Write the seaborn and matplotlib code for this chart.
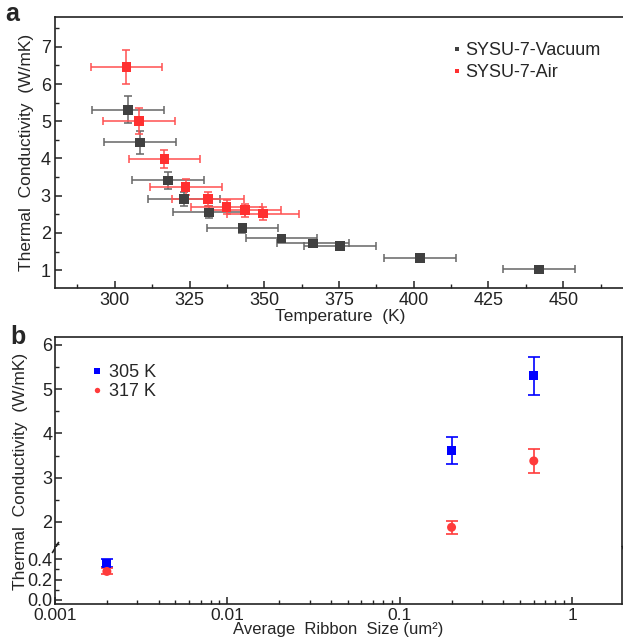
import numpy as np
import pandas as pd
import matplotlib
matplotlib.use("Agg")
import matplotlib.pyplot as plt
from matplotlib.ticker import MultipleLocator, LogLocator, NullFormatter, FixedLocator
import seaborn as sns

sns.set_theme(style="ticks")
plt.rcParams.update({
    "font.family": ["Liberation Sans", "DejaVu Sans"],
    "font.size": 12,
    "axes.linewidth": 1.2,
    "xtick.direction": "in",
    "ytick.direction": "in",
    "xtick.major.size": 5,
    "ytick.major.size": 5,
    "xtick.minor.size": 3,
    "ytick.minor.size": 3,
    "xtick.major.width": 1.1,
    "ytick.major.width": 1.1,
    "xtick.minor.width": 1.0,
    "ytick.minor.width": 1.0,
    "xtick.labelsize": 13,
    "ytick.labelsize": 13,
    "xtick.color": "#222222",
    "ytick.color": "#222222",
    "axes.edgecolor": "#222222",
})

# ---- panel a: thermal conductivity vs temperature
T_vac    = [304.5, 308.5, 317.8, 323.2, 331.6, 342.7, 355.8, 366.2, 375.3, 402.0, 441.8]
k_vac    = [5.31, 4.43, 3.41, 2.91, 2.55, 2.13, 1.85, 1.72, 1.65, 1.32, 1.02]
kerr_vac = [0.36, 0.31, 0.23, 0.18, 0.16, 0.12, 0.10, 0.08, 0.08, 0.06, 0.05]
Terr_vac = [12, 12, 12, 12, 12, 12, 12, 12, 12, 12, 12]

T_air    = [303.9, 308.1, 316.6, 323.7, 331.2, 337.4, 343.6, 349.6]
k_air    = [6.46, 5.01, 3.99, 3.24, 2.91, 2.70, 2.61, 2.52]
kerr_air = [0.45, 0.35, 0.25, 0.22, 0.18, 0.18, 0.17, 0.17]
Terr_air = [12, 12, 12, 12, 12, 12, 12, 12]

# ---- panel b: thermal conductivity vs ribbon size
size      = [0.002, 0.2, 0.6]
k_305     = [0.36, 3.62, 5.30]
kerr_305  = [0.04, 0.31, 0.42]
k_317     = [0.28, 1.88, 3.38]
kerr_317  = [0.03, 0.15, 0.27]

C_VAC, C_VAC_ERR = "#404040", "#666666"
C_AIR, C_AIR_ERR = "#ff3030", "#ff5050"
C_305, C_317 = "#0000ff", "#ff3b3b"

W, H = 623, 637
fig = plt.figure(figsize=(W / 100, H / 100), dpi=100)


def box(l, r, t, b):
    return [l / W, 1 - b / H, (r - l) / W, (b - t) / H]


# panel a
ax_a = fig.add_axes(box(55, 626, 17, 288))
df_a = pd.DataFrame({
    "T": T_vac + T_air,
    "k": k_vac + k_air,
    "series": ["SYSU-7-Vacuum"] * len(T_vac) + ["SYSU-7-Air"] * len(T_air),
})
ax_a.errorbar(T_vac, k_vac, xerr=Terr_vac, yerr=kerr_vac, fmt="none",
              ecolor=C_VAC_ERR, elinewidth=1.1, capsize=3, capthick=1.1, zorder=2)
ax_a.errorbar(T_air, k_air, xerr=Terr_air, yerr=kerr_air, fmt="none",
              ecolor=C_AIR_ERR, elinewidth=1.1, capsize=3, capthick=1.1, zorder=3)
sns.scatterplot(data=df_a, x="T", y="k", hue="series",
                palette={"SYSU-7-Vacuum": C_VAC, "SYSU-7-Air": C_AIR},
                marker="s", s=48, linewidth=0, ax=ax_a, zorder=4, legend=True)
ax_a.set_xlim(280, 471)
ax_a.set_ylim(0.52, 7.8)
ax_a.xaxis.set_major_locator(MultipleLocator(25))
ax_a.xaxis.set_minor_locator(MultipleLocator(12.5))
ax_a.yaxis.set_major_locator(MultipleLocator(1))
ax_a.yaxis.set_minor_locator(MultipleLocator(0.5))
ax_a.tick_params(axis="both", which="both", top=False, right=False, pad=3)
ax_a.set_xlabel("Temperature  (K)", labelpad=0, fontsize=12.5)
ax_a.set_ylabel("Thermal  Conductivity  (W/mK)", labelpad=5, fontsize=12.5)
h, l = ax_a.get_legend_handles_labels()
ax_a.legend(h, l, loc="upper left", bbox_to_anchor=(444 / W, 1 - 33 / H),
            bbox_transform=fig.transFigure, frameon=False, markerscale=0.5,
            handlelength=0.4, handletextpad=0.3, labelspacing=0.3,
            borderpad=0, fontsize=13)
fig.text(5 / W, 1 - 14 / H, "a", fontsize=18, fontweight="bold", va="center")

# panel b (broken y axis)
ax_hi = fig.add_axes(box(55, 622, 337, 547))
ax_lo = fig.add_axes(box(55, 622, 547, 604), sharex=ax_hi)
df_b = pd.DataFrame({
    "size": size + size,
    "k": k_305 + k_317,
    "temp": ["305 K"] * len(size) + ["317 K"] * len(size),
})
for ax in (ax_hi, ax_lo):
    ax.errorbar(size, k_305, yerr=kerr_305, fmt="none", ecolor=C_305,
                elinewidth=1.2, capsize=4, capthick=1.2, zorder=2)
    ax.errorbar(size, k_317, yerr=kerr_317, fmt="none", ecolor=C_317,
                elinewidth=1.2, capsize=4, capthick=1.2, zorder=2)
    sns.scatterplot(data=df_b, x="size", y="k", hue="temp", style="temp",
                    palette={"305 K": C_305, "317 K": C_317},
                    markers={"305 K": "s", "317 K": "o"},
                    s=42, linewidth=0, ax=ax, zorder=4, legend=(ax is ax_hi))
    ax.set_xscale("log")
    ax.set_xlim(0.001, 1.95)
    ax.set_xlabel("")
    ax.set_ylabel("")
    ax.tick_params(axis="both", which="both", top=False, right=False, pad=2)

ax_hi.set_ylim(1.435, 6.18)
ax_hi.yaxis.set_major_locator(MultipleLocator(1))
ax_hi.yaxis.set_minor_locator(MultipleLocator(0.5))
ax_hi.spines["bottom"].set_visible(False)
ax_hi.tick_params(axis="x", which="both", bottom=False, labelbottom=False)

ax_lo.set_ylim(-0.04, 0.52)
ax_lo.yaxis.set_major_locator(FixedLocator([0.0, 0.2, 0.4]))
ax_lo.yaxis.set_minor_locator(FixedLocator([0.1, 0.3]))
ax_lo.yaxis.set_major_formatter(matplotlib.ticker.FormatStrFormatter("%.1f"))
ax_lo.spines["top"].set_visible(False)
ax_lo.xaxis.set_major_locator(LogLocator(base=10, numticks=10))
ax_lo.xaxis.set_minor_locator(LogLocator(base=10, subs=np.arange(2, 10), numticks=20))
ax_lo.xaxis.set_minor_formatter(NullFormatter())
ax_lo.xaxis.set_major_formatter(matplotlib.ticker.FuncFormatter(lambda v, p: f"{v:g}"))
ax_lo.tick_params(axis="x", which="major", pad=3, labelsize=12.5)
ax_lo.set_xlabel("Average  Ribbon  Size (um²)", labelpad=-1, fontsize=12)

# break marks on the y spines
kw = dict(marker=[(-0.6, -1), (0.6, 1)], markersize=8, linestyle="none",
          color="#222222", mec="#222222", mew=1.2, clip_on=False)
ax_hi.plot([0, 1], [0, 0], transform=ax_hi.transAxes, **kw)

h, l = ax_hi.get_legend_handles_labels()
ax_hi.legend(h, l, loc="upper left", bbox_to_anchor=(84 / W, 1 - 355 / H),
             bbox_transform=fig.transFigure, frameon=False, markerscale=0.6,
             handlelength=0.4, handletextpad=0.5, labelspacing=0.1,
             borderpad=0, fontsize=13)

fig.text(21 / W, 1 - 471 / H, "Thermal  Conductivity  (W/mK)", rotation=90,
         ha="center", va="center", fontsize=12.5)
fig.text(10 / W, 1 - 337 / H, "b", fontsize=18, fontweight="bold", va="center")

fig.savefig("out.png", dpi=100)
